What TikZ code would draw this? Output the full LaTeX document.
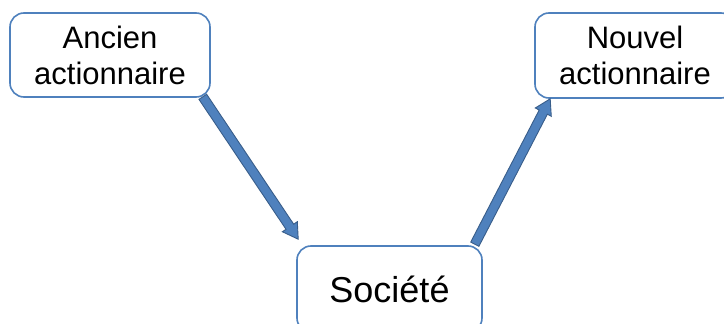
\documentclass[tikz,border=0pt]{standalone}
\usepackage{fontspec}
\setmainfont{Liberation Sans}
\usetikzlibrary{calc}
\definecolor{boxblue}{HTML}{4F81BD}
\definecolor{arrowline}{HTML}{385D8A}
\tikzset{
  roundbox/.style={draw=boxblue, line width=1.6pt, rounded corners=14pt, fill=white,
    inner sep=0pt, align=center, text=black},
  blockarrow/.style={fill=boxblue, draw=arrowline, line width=0.9pt, line join=miter},
}
\newcommand{\blockarrowfromto}[2]{%
  \path let \p1=($(#2)-(#1)$), \n1={atan2(\y1,\x1)}, \n2={veclen(\x1,\y1)} in
    [shift={(#1)}] [x=1pt, y=1pt, rotate=\n1]
    [blockarrow] (0,-4.6) -- (\n2-15,-4.6) -- (\n2-15,-9) -- (\n2,0)
      -- (\n2-15,9) -- (\n2-15,4.6) -- (0,4.6) -- cycle;}
\begin{document}
\begin{tikzpicture}[x=1pt,y=-1pt]
\clip (0,0) rectangle (724,324);
\fill[white] (0,0) rectangle (724,324);
\node[roundbox, minimum width=200pt, minimum height=84pt,
  font=\fontsize{31}{36}\selectfont] (anc) at (110,55) {Ancien\\actionnaire};
\node[roundbox, minimum width=200pt, minimum height=85pt,
  font=\fontsize{31}{36}\selectfont] (nouv) at (635,55.5) {Nouvel\\actionnaire};
\node[roundbox, minimum width=185pt, minimum height=86pt,
  font=\fontsize{36}{40}\selectfont] (soc) at (389.5,289) {Société};
\coordinate (a1s) at ($(anc.south east)+(-8,-1)$);
\coordinate (a1e) at ($(soc.north west)+(2,-6)$);
\coordinate (a2s) at ($(soc.north east)+(-8,-1)$);
\coordinate (a2e) at ($(nouv.south west)+(16,0)$);
\begin{scope}
\blockarrowfromto{a1s}{a1e}
\end{scope}
\begin{scope}
\blockarrowfromto{a2s}{a2e}
\end{scope}
\end{tikzpicture}
\end{document}
